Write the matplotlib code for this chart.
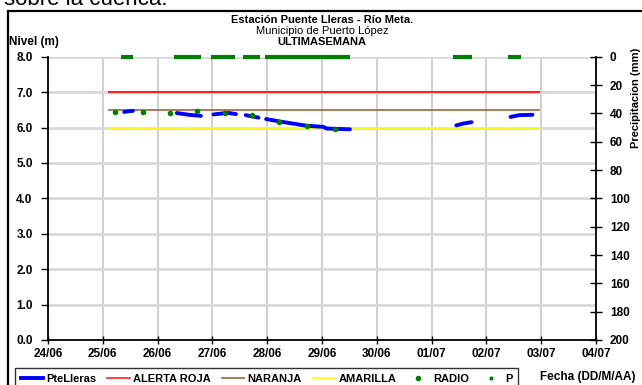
import matplotlib.pyplot as plt
from matplotlib.lines import Line2D
from matplotlib.patches import Rectangle
import numpy as np

plt.rcParams['font.family'] = ['Liberation Sans', 'DejaVu Sans']

nan = np.nan

# x in days since 24/06 00:00
dias = ['24/06', '25/06', '26/06', '27/06', '28/06', '29/06', '30/06',
        '01/07', '02/07', '03/07', '04/07']

nivel_t = [1.39, 1.47, 1.55, nan,
           2.35, 2.57, 2.79, nan,
           3.02, 3.20, 3.30, 3.43, nan,
           3.61, 3.84, nan,
           3.98, 4.23, 4.72, 5.02, 5.09, 5.51, nan,
           7.45, 7.60, 7.73, nan,
           8.44, 8.60, 8.84]
nivel = [6.44, 6.46, 6.47, nan,
         6.41, 6.36, 6.33, nan,
         6.37, 6.40, 6.41, 6.38, nan,
         6.35, 6.28, nan,
         6.24, 6.17, 6.05, 6.02, 5.97, 5.95, nan,
         6.06, 6.12, 6.15, nan,
         6.30, 6.35, 6.36]

radio_t = [1.22, 1.73, 2.23, 2.72, 3.23, 3.73, 4.22, 4.72, 5.24]
radio = [6.43, 6.43, 6.41, 6.46, 6.41, 6.34, 6.17, 6.04, 5.97]

alerta_t = [1.12, 8.96]
roja = [7.0, 7.0]
naranja = [6.5, 6.5]
amarilla = [6.0, 6.0]

p_t = [1.34, 1.56, nan, 2.30, 2.80, nan, 2.97, 3.41, nan, 3.56, 3.87, nan,
       3.96, 5.51, nan, 7.39, 7.73, nan, 8.39, 8.64]
p = [0, 0, nan, 0, 0, nan, 0, 0, nan, 0, 0, nan, 0, 0, nan, 0, 0, nan, 0, 0]

W, H = 642, 385
fig = plt.figure(figsize=(W/100, H/100), dpi=100)
ax = fig.add_axes([48/W, 1-340/H, 548/W, (340-56.7)/H])

ax.plot(alerta_t, roja, color='#ff2020', lw=1.5)
ax.plot(alerta_t, naranja, color='#a0643c', lw=1.2)
ax.plot(alerta_t, amarilla, color='#ffff00', lw=1.2)
ax.plot(nivel_t, nivel, color='#0000ff', lw=2.8, solid_capstyle='round')
ax.plot(radio_t, radio, ls='none', marker='o', ms=3, color='#008000')

ax.set_xlim(0, 10)
ax.set_ylim(0, 8)
ax.set_xticks(range(11))
ax.set_xticklabels(dias)
ax.set_yticks(range(9))
ax.set_yticklabels(['%.1f' % v for v in range(9)])
ax.grid(axis='y', color='#d9d9d9', lw=2)
ax.grid(axis='x', color='#c8c8c8', lw=1.2)
ax.set_axisbelow(True)
ax.spines['top'].set_visible(False)
ax.spines['right'].set_visible(False)
for s in ['left', 'bottom']:
    ax.spines[s].set_linewidth(1.3)
ax.tick_params(axis='y', direction='out', length=5, width=1, pad=6)
ax.tick_params(axis='x', direction='inout', length=6, width=1, pad=3)
for lab in ax.get_xticklabels() + ax.get_yticklabels():
    lab.set_fontweight('bold')
    lab.set_fontsize(8.5)

ax2 = ax.twinx()
ax2.plot(p_t, p, color='#008000', lw=3, solid_capstyle='butt', clip_on=False)
ax2.set_ylim(200, 0)
ax2.set_yticks(range(0, 201, 20))
ax2.spines['top'].set_visible(False)
ax2.spines['left'].set_visible(False)
ax2.spines['bottom'].set_visible(False)
ax2.spines['right'].set_linewidth(1.3)
ax2.tick_params(axis='y', direction='inout', length=8, width=1, pad=6)
for lab in ax2.get_yticklabels():
    lab.set_fontweight('bold')
    lab.set_fontsize(8.5)

cx = (48 + 596) / 2 / W
fig.text(cx, 1-20/H, 'Estación Puente Lleras - Río Meta.', ha='center', va='center',
         fontsize=8, fontweight='bold')
fig.text(cx, 1-31/H, 'Municipio de Puerto López', ha='center', va='center', fontsize=8)
fig.text(cx, 1-42/H, 'ULTIMASEMANA', ha='center', va='center', fontsize=8, fontweight='bold')
fig.text(9/W, 1-42/H, 'Nivel (m)', ha='left', va='center', fontsize=8.5, fontweight='bold')
fig.text(636/W, 1-98/H, 'Precipitacion (mm)', ha='center', va='center', rotation=90,
         fontsize=8, fontweight='bold')
fig.text(540/W, 1-377/H, 'Fecha (DD/M/AA)', ha='left', va='center', fontsize=8.5,
         fontweight='bold')
fig.text(4/W, 1-5/H, 'sobre la cuenca.', ha='left', va='baseline', fontsize=16)

fig.add_artist(Rectangle((8/W, -0.1), 1.0, 1.1 - 11/H, transform=fig.transFigure,
                         fill=False, edgecolor='black', lw=1.6))

handles = [
    Line2D([], [], color='#0000ff', lw=2.8),
    Line2D([], [], color='#ff2020', lw=1.2),
    Line2D([], [], color='#a0643c', lw=1.2),
    Line2D([], [], color='#ffff00', lw=1.2),
    Line2D([], [], ls='none', marker='o', ms=3, color='#008000'),
    Line2D([], [], ls='none', marker='o', ms=2, color='#008000'),
]
labels = ['PteLleras', 'ALERTA ROJA', 'NARANJA', 'AMARILLA', 'RADIO', 'P']
leg = fig.legend(handles, labels, ncol=6, loc='upper left',
                 bbox_to_anchor=(15/W, 1-368/H), frameon=True, fancybox=False,
                 edgecolor='black', prop={'size': 8, 'weight': 'bold'},
                 handlelength=2.0, handletextpad=0.3, columnspacing=1.0,
                 borderpad=0.5, borderaxespad=0)
leg.get_frame().set_linewidth(1.0)

fig.savefig('out.png', dpi=100)
